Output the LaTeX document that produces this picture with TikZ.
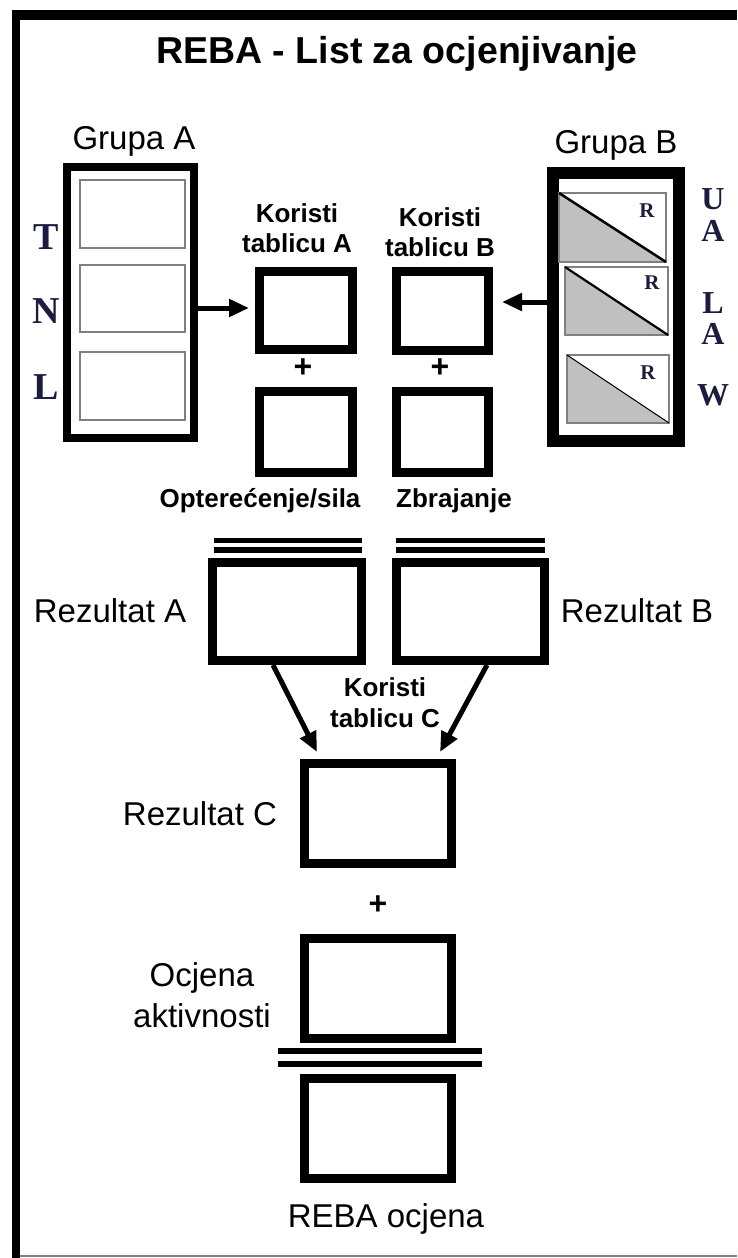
\documentclass[tikz,border=0pt]{standalone}
\usepackage{fontspec}
\usepackage{tikz}
\usetikzlibrary{arrows.meta}
\newfontfamily\arialfont{Liberation Sans}
\newfontfamily\timesfont{Liberation Serif}
\definecolor{inkblue}{RGB}{28,28,64}
\definecolor{fillgray}{RGB}{192,192,192}
\definecolor{rimgray}{RGB}{128,128,128}

\begin{document}
\begin{tikzpicture}[x=1pt,y=-1pt,
    box/.style={draw,line width=9pt,inner sep=0pt},
    lbl/.style={font=\arialfont\fontsize{33}{41}\selectfont,inner sep=0pt},
    tbl/.style={font=\arialfont\bfseries\fontsize{26}{30}\selectfont,inner sep=0pt,align=center},
    letter/.style={font=\timesfont\bfseries\fontsize{38}{42}\selectfont,text=inkblue,inner sep=0pt},
    sideletter/.style={font=\timesfont\bfseries\fontsize{32}{36}\selectfont,text=inkblue,inner sep=0pt},
    rlet/.style={font=\timesfont\bfseries\fontsize{21}{24}\selectfont,text=inkblue,inner sep=0pt},
    plus/.style={font=\arialfont\bfseries\fontsize{32}{36}\selectfont,inner sep=0pt},
    inner/.style={draw=rimgray,line width=1.5pt},
    arr/.style={line width=5pt,-{Triangle[length=20pt,width=17pt]}},
    dbl/.style={line width=5.5pt}]
    \useasboundingbox (0,0) rectangle (737,1258);

    % frame of the sheet
    \draw[line width=10pt] (12,15) -- (737,15);
    \draw[line width=8pt] (16,10) -- (16,1258);
    \draw[rimgray,line width=2.5pt] (20,1256) -- (737,1256);

    \node[lbl,font=\arialfont\bfseries\fontsize{37.5}{42}\selectfont,anchor=base] (title) at (397,63) {REBA - List za ocjenjivanje};

    % group A
    \node[lbl,anchor=base] (grupaA) at (134,149) {Grupa A};
    \node[box,line width=8pt,minimum width=127pt,minimum height=271pt] (grpA) at (130.5,302.5) {};
    \foreach \ya/\yb in {180/248,265/332,352/420}
        \draw[inner] (80,\ya) rectangle (185,\yb);
    \node[letter] (lt) at (46,237) {T};
    \node[letter] (ln) at (46,311) {N};
    \node[letter] (ll) at (46,387) {L};

    % group B
    \node[lbl,anchor=base] (grupaB) at (616,153) {Grupa B};
    \node[box,line width=12pt,minimum width=126pt,minimum height=268pt] (grpB) at (616,307) {};
    \foreach \xa/\ya/\xb/\yb/\w in {559/193/666/262/2.5,565/267/668/335/2.2,567/355/669/423/1}
    {
        \fill[fillgray] (\xa,\ya) -- (\xb,\yb) -- (\xa,\yb) -- cycle;
        \draw[inner] (\xa,\ya) rectangle (\xb,\yb);
        \draw[line width=\w pt] (\xa,\ya) -- (\xb,\yb);
    }
    \node[rlet] (r1) at (647,211) {R};
    \node[rlet] (r2) at (652,283) {R};
    \node[rlet] (r3) at (648,373) {R};
    \node[sideletter] (lu) at (713,199) {U};
    \node[sideletter] (la1) at (713,231) {A};
    \node[sideletter] (ll2) at (713,303) {L};
    \node[sideletter] (la2) at (713,334) {A};
    \node[sideletter] (lw) at (713,395) {W};

    % tables A and B
    \node[tbl,anchor=north] (korA) at (297,203) {Koristi\\tablicu A};
    \node[tbl,anchor=north] (korB) at (440,207) {Koristi\\tablicu B};
    \node[box,minimum width=93pt,minimum height=78pt] (tabA) at (306,310.5) {};
    \node[box,minimum width=93pt,minimum height=81pt] (optA) at (306,432) {};
    \node[box,minimum width=92pt,minimum height=79pt] (tabB) at (442.5,311) {};
    \node[box,minimum width=92pt,minimum height=81pt] (zbrB) at (442.5,432) {};
    \node[plus] (plusA) at (303,368) {+};
    \node[plus] (plusB) at (440,368) {+};
    \node[tbl,anchor=base] (opt) at (260,507) {Optere\'cenje/sila};
    \node[tbl,anchor=base] (zbr) at (454,507) {Zbrajanje};

    \draw[arr] ([yshift=-5.5pt]grpA.east) -- ([xshift=-6pt,yshift=-5.5pt]grpA.east -| tabA.west);
    \draw[arr] ([yshift=5pt]grpB.west) -- ([xshift=9pt,yshift=5pt]grpB.west -| tabB.east);

    % results A and B
    \node[box,minimum width=149pt,minimum height=98pt] (rezA) at (287,611.5) {};
    \node[box,minimum width=148pt,minimum height=98pt] (rezB) at (470.5,611.5) {};
    \draw[dbl] ([xshift=6pt,yshift=17.5pt]rezA.north west) -- ([xshift=-4pt,yshift=17.5pt]rezA.north east);
    \draw[dbl] ([xshift=6pt,yshift=8pt]rezA.north west) -- ([xshift=-4pt,yshift=8pt]rezA.north east);
    \draw[dbl] ([xshift=4pt,yshift=17.5pt]rezB.north west) -- ([xshift=-4pt,yshift=17.5pt]rezB.north east);
    \draw[dbl] ([xshift=4pt,yshift=8pt]rezB.north west) -- ([xshift=-4pt,yshift=8pt]rezB.north east);
    \node[lbl,anchor=base] (labA) at (110,622) {Rezultat A};
    \node[lbl,anchor=base] (labB) at (637,622) {Rezultat B};
    \node[tbl,anchor=north,font=\arialfont\bfseries\fontsize{26}{31}\selectfont] (korC) at (385,677) {Koristi\\tablicu C};

    % result C and final score
    \node[box,minimum width=147pt,minimum height=100pt] (rezC) at (378,813.5) {};
    \node[lbl,anchor=base] (labC) at (200,825) {Rezultat C};
    \draw[arr] ([xshift=-14pt]rezA.south) -- ([xshift=17pt,yshift=7pt]rezC.north west);
    \draw[arr] ([xshift=16.5pt]rezB.south) -- ([xshift=-16pt,yshift=7pt]rezC.north east);
    \node[plus] (plusC) at (378,905) {+};
    \node[box,minimum width=147pt,minimum height=100pt] (ocjAkt) at (378,988.5) {};
    \node[lbl,anchor=north,align=center] (labAkt) at (202,962) {Ocjena\\aktivnosti};
    \draw[dbl] ([xshift=-22pt,yshift=-8pt]ocjAkt.south west) -- ([xshift=26pt,yshift=-8pt]ocjAkt.south east);
    \draw[dbl] ([xshift=-22pt,yshift=-21pt]ocjAkt.south west) -- ([xshift=26pt,yshift=-21pt]ocjAkt.south east);
    \node[box,minimum width=147pt,minimum height=100pt] (reba) at (378,1128.5) {};
    \node[lbl,anchor=base] (labReba) at (386,1227) {REBA ocjena};
\end{tikzpicture}
\end{document}
